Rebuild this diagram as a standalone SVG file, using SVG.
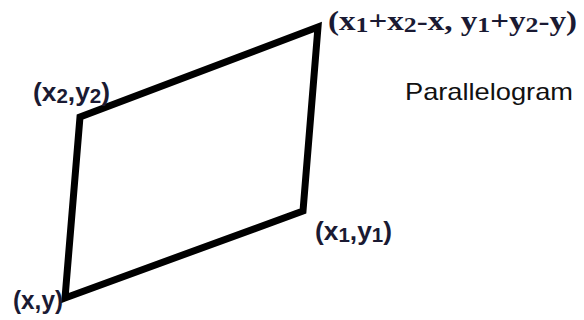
<svg xmlns="http://www.w3.org/2000/svg" width="584" height="320" viewBox="0 0 584 320">
<style>
.lbl{font-family:"Liberation Sans","DejaVu Sans",sans-serif;font-weight:bold;font-size:25px;fill:#1a1a33}
.math{font-family:"Liberation Serif","DejaVu Serif",serif;font-weight:bold;font-size:28px;fill:#1a1a33}
.title{font-family:"Liberation Sans","DejaVu Sans",sans-serif;font-size:24px;fill:#111}
.sub{font-size:78%}
</style>
<rect width="584" height="320" fill="#fff"/>
<g id="shape">
<polygon points="65,298 303,211 318,27 80,117" fill="none" stroke="#000" stroke-width="7" stroke-linejoin="miter"/>
</g>
<g id="p-top-right"><text class="math" x="328" y="30" textLength="249" lengthAdjust="spacingAndGlyphs">(x<tspan class="sub" dy="2">1</tspan><tspan dy="-2">+x</tspan><tspan class="sub" dy="2">2</tspan><tspan dy="-2">-x, y</tspan><tspan class="sub" dy="2">1</tspan><tspan dy="-2">+y</tspan><tspan class="sub" dy="2">2</tspan><tspan dy="-2">-y)</tspan></text></g>
<g id="p-x2y2"><text class="lbl" x="33" y="101" textLength="77" lengthAdjust="spacingAndGlyphs">(x<tspan class="sub" dy="2">2</tspan><tspan dy="-2">,y</tspan><tspan class="sub" dy="2">2</tspan><tspan dy="-2">)</tspan></text></g>
<g id="p-x1y1"><text class="lbl" x="315" y="240" textLength="77" lengthAdjust="spacingAndGlyphs">(x<tspan class="sub" dy="2">1</tspan><tspan dy="-2">,y</tspan><tspan class="sub" dy="2">1</tspan><tspan dy="-2">)</tspan></text></g>
<g id="p-xy"><text class="lbl" x="13" y="309" textLength="50" lengthAdjust="spacingAndGlyphs">(x,y)</text></g>
<g id="title"><text class="title" x="405" y="100" textLength="168" lengthAdjust="spacingAndGlyphs">Parallelogram</text></g>
</svg>
